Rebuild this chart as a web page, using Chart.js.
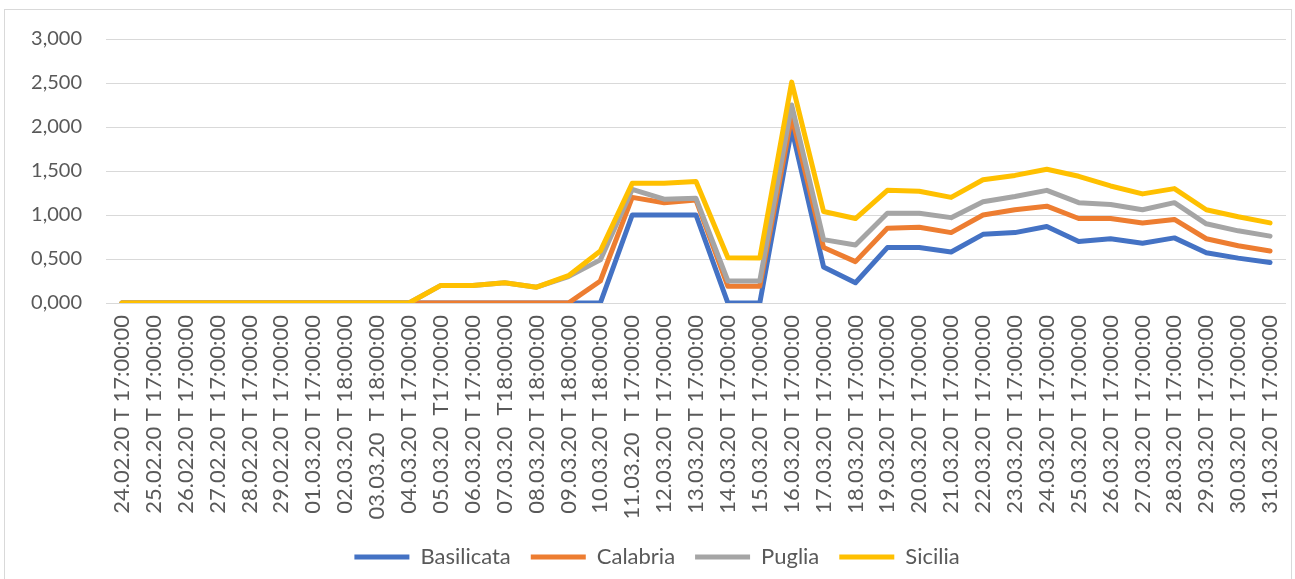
<!DOCTYPE html>
<html>
<head>
<meta charset="utf-8">
<script src="https://cdn.jsdelivr.net/npm/chart.js@4"></script>
<style>
  body { margin: 0; background: #fff; }
  #frame { position: absolute; left: 4px; top: 9px; width: 1286px; height: 580px; border: 1px solid #d9d9d9; pointer-events: none; }
  #grafica { position: absolute; left: 0; top: 0; }
</style>
</head>
<body>
<canvas id="grafica" width="1295" height="579"></canvas>
<div id="frame"></div>
<script>
const etiquetas = [
  '24.02.20 T 17:00:00', '25.02.20 T 17:00:00', '26.02.20 T 17:00:00', '27.02.20 T 17:00:00',
  '28.02.20 T 17:00:00', '29.02.20 T 17:00:00', '01.03.20 T 17:00:00', '02.03.20 T 18:00:00',
  '03.03.20  T 18:00:00', '04.03.20 T 17:00:00', '05.03.20  T17:00:00', '06.03.20 T 17:00:00',
  '07.03.20  T18:00:00', '08.03.20 T 18:00:00', '09.03.20 T 18:00:00', '10.03.20 T 18:00:00',
  '11.03.20  T 17:00:00', '12.03.20 T 17:00:00', '13.03.20 T 17:00:00', '14.03.20 T 17:00:00',
  '15.03.20 T 17:00:00', '16.03.20 T 17:00:00', '17.03.20 T 17:00:00', '18.03.20 T 17:00:00',
  '19.03.20 T 17:00:00', '20.03.20 T 17:00:00', '21.03.20 T 17:00:00', '22.03.20 T 17:00:00',
  '23.03.20 T 17:00:00', '24.03.20 T 17:00:00', '25.03.20 T 17:00:00', '26.03.20 T 17:00:00',
  '27.03.20 T 17:00:00', '28.03.20 T 17:00:00', '29.03.20 T 17:00:00', '30.03.20 T 17:00:00',
  '31.03.20 T 17:00:00',
];

const basilicata = [0, 0, 0, 0, 0, 0, 0, 0, 0, 0, 0, 0, 0, 0, 0, 0,
  1.00, 1.00, 1.00, 0, 0, 1.98, 0.41, 0.23, 0.63, 0.63, 0.58, 0.78, 0.80, 0.87,
  0.70, 0.73, 0.68, 0.74, 0.57, 0.51, 0.46];
const calabria = [0, 0, 0, 0, 0, 0, 0, 0, 0, 0, 0, 0, 0, 0, 0, 0.25,
  1.20, 1.14, 1.17, 0.19, 0.19, 2.12, 0.63, 0.47, 0.85, 0.86, 0.80, 1.00, 1.06, 1.10,
  0.96, 0.96, 0.91, 0.95, 0.73, 0.65, 0.59];
const puglia = [0, 0, 0, 0, 0, 0, 0, 0, 0, 0, 0.20, 0.20, 0.23, 0.18, 0.30, 0.49,
  1.29, 1.18, 1.19, 0.25, 0.25, 2.25, 0.72, 0.66, 1.02, 1.02, 0.97, 1.15, 1.21, 1.28,
  1.14, 1.12, 1.06, 1.14, 0.90, 0.82, 0.76];
const sicilia = [0, 0, 0, 0, 0, 0, 0, 0, 0, 0, 0.20, 0.20, 0.23, 0.18, 0.31, 0.59,
  1.36, 1.36, 1.38, 0.515, 0.51, 2.51, 1.04, 0.96, 1.28, 1.27, 1.20, 1.40, 1.45, 1.52,
  1.44, 1.33, 1.24, 1.30, 1.06, 0.98, 0.91];

// later series on top, like the original sheet
const serie = (label, data, color, order) => ({
  label,
  data,
  order,
  borderColor: color,
  backgroundColor: color,
  borderWidth: 5,
  borderCapStyle: 'round',
  borderJoinStyle: 'round',
  pointRadius: 0,
  tension: 0,
});

const testo = '#595959';

// eslint-disable-next-line no-new, no-undef
new Chart(document.querySelector('#grafica'), {
  type: 'line',
  data: {
    labels: etiquetas,
    datasets: [
      serie('Basilicata', basilicata, '#4472C4', 3),
      serie('Calabria', calabria, '#ED7D31', 2),
      serie('Puglia', puglia, '#A5A5A5', 1),
      serie('Sicilia', sicilia, '#FFC000', 0),
    ],
  },
  options: {
    responsive: false,
    devicePixelRatio: 1,
    animation: false,
    layout: { padding: { left: 28, right: 9, top: 39, bottom: 1 } },
    plugins: {
      tooltip: { enabled: false },
      legend: {
        position: 'bottom',
        labels: {
          usePointStyle: true,
          pointStyle: 'line',
          pointStyleWidth: 55,
          padding: 20,
          color: testo,
          font: { family: 'Lato', size: 22 },
          sort: (a, b) => a.datasetIndex - b.datasetIndex,
        },
      },
    },
    scales: {
      x: {
        offset: true,
        grid: { display: false, drawTicks: false },
        border: { display: false },
        ticks: {
          autoSkip: false,
          minRotation: 90,
          maxRotation: 90,
          padding: 12,
          color: testo,
          font: { family: 'Lato', size: 22 },
        },
        afterFit: (s) => {
          s.height = 223;
          s.paddingLeft = 0;
          s.paddingRight = 0;
        },
      },
      y: {
        min: 0,
        max: 3,
        grid: { color: '#d9d9d9', lineWidth: 1, drawTicks: false },
        border: { display: false },
        ticks: {
          stepSize: 0.5,
          padding: 24,
          color: testo,
          font: { family: 'Lato', size: 20 },
          callback: (v) => v.toFixed(3).replace('.', ','),
        },
        afterFit: (s) => { s.width = 78; },
      },
    },
  },
});
</script>
</body>
</html>
